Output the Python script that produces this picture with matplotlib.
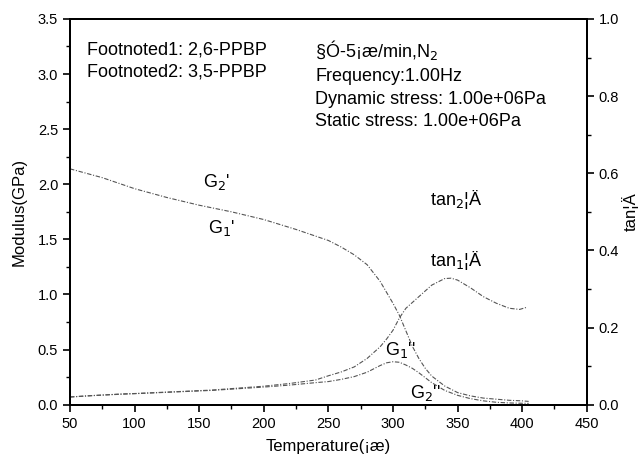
import matplotlib
matplotlib.use("Agg")
import matplotlib.pyplot as plt
from matplotlib.ticker import MultipleLocator

plt.rcParams['font.family'] = ['Liberation Sans', 'DejaVu Sans']

# Storage modulus G' (GPa)
temp_gp = [50, 75, 100, 125, 150, 175, 200, 225, 250, 260, 270, 280, 290, 297,
           300, 305, 310, 315, 320, 325, 330, 340, 350, 360, 370, 380, 390, 400, 405]
g_storage = [2.14, 2.06, 1.96, 1.88, 1.81, 1.75, 1.68, 1.59, 1.49, 1.43, 1.36,
             1.27, 1.12, 0.98, 0.92, 0.81, 0.67, 0.53, 0.42, 0.33, 0.26, 0.17,
             0.11, 0.08, 0.06, 0.05, 0.04, 0.035, 0.03]

# Loss modulus G'' (GPa)
temp_gpp = [50, 60, 70, 80, 90, 100, 120, 140, 160, 180, 200, 220, 240, 250, 260,
            270, 280, 290, 295, 300, 305, 310, 315, 320, 330, 340, 350, 360, 370,
            380, 390, 400, 405]
g_loss = [0.07, 0.078, 0.085, 0.09, 0.095, 0.10, 0.11, 0.12, 0.13, 0.145, 0.16,
          0.178, 0.20, 0.21, 0.23, 0.255, 0.295, 0.355, 0.38, 0.39, 0.385, 0.36,
          0.33, 0.29, 0.20, 0.13, 0.085, 0.055, 0.035, 0.022, 0.016, 0.013, 0.012]

# Loss factor tan delta
temp_tan = [50, 60, 70, 80, 90, 100, 120, 140, 160, 180, 200, 220, 240, 250, 260,
            270, 280, 290, 295, 300, 305, 310, 320, 330, 340, 345, 350, 360, 370,
            380, 390, 398, 404]
tan_delta = [0.020, 0.022, 0.024, 0.026, 0.028, 0.029, 0.032, 0.035, 0.038,
             0.043, 0.048, 0.055, 0.064, 0.075, 0.085, 0.098, 0.12, 0.15, 0.17,
             0.193, 0.225, 0.25, 0.28, 0.31, 0.327, 0.328, 0.323, 0.303, 0.28,
             0.263, 0.25, 0.247, 0.253]

fig = plt.figure(figsize=(6.42, 4.62), dpi=100)
ax = fig.add_axes([0.109, 0.124, 0.805, 0.835])
ax2 = ax.twinx()

line_kw = dict(color='#555555', lw=0.8, linestyle=(0, (4, 1.5, 1, 1.5)))
ax.plot(temp_gp, g_storage, **line_kw)
ax.plot(temp_gpp, g_loss, **line_kw)
ax2.plot(temp_tan, tan_delta, **line_kw)

ax.set_xlim(50, 450)
ax.set_ylim(0, 3.5)
ax2.set_ylim(0, 1.0)

ax.xaxis.set_major_locator(MultipleLocator(50))
ax.xaxis.set_minor_locator(MultipleLocator(25))
ax.yaxis.set_major_locator(MultipleLocator(0.5))
ax.yaxis.set_minor_locator(MultipleLocator(0.25))
ax2.yaxis.set_major_locator(MultipleLocator(0.2))
ax2.yaxis.set_minor_locator(MultipleLocator(0.1))

for a in (ax, ax2):
    for s in a.spines.values():
        s.set_linewidth(1.4)
    a.tick_params(which='major', direction='out', length=5, width=1.2, labelsize=10.5)
    a.tick_params(which='minor', direction='out', length=3, width=1.0)
ax.tick_params(top=False, which='both')

ax.set_xlabel('Temperature(¡æ)', fontsize=12, labelpad=6)
ax.set_ylabel('Modulus(GPa)', fontsize=12, labelpad=8)
ax2.set_ylabel('tan¦Ä', fontsize=12, labelpad=2)

ax.yaxis.set_major_formatter(plt.FuncFormatter(lambda v, p: f'{v:.1f}'))
ax2.yaxis.set_major_formatter(plt.FuncFormatter(lambda v, p: f'{v:.1f}'))

fs = 13
ax.text(63, 3.22, 'Footnoted1: 2,6-PPBP', fontsize=fs, va='center')
ax.text(63, 3.02, 'Footnoted2: 3,5-PPBP', fontsize=fs, va='center')
ax.text(240, 3.22, '§Ó-5¡æ/min,N$_2$', fontsize=fs, va='center')
ax.text(240, 2.98, 'Frequency:1.00Hz', fontsize=fs, va='center')
ax.text(240, 2.77, 'Dynamic stress: 1.00e+06Pa', fontsize=fs, va='center')
ax.text(240, 2.57, 'Static stress: 1.00e+06Pa', fontsize=fs, va='center')

ax.text(153, 2.02, "G$_2$'", fontsize=fs, va='center')
ax.text(157, 1.60, "G$_1$'", fontsize=fs, va='center')
ax.text(329, 1.86, 'tan$_2$¦Ä', fontsize=fs, va='center')
ax.text(328.5, 1.31, 'tan$_1$¦Ä', fontsize=fs, va='center')
ax.text(294, 0.50, "G$_1$''", fontsize=fs, va='center')
ax.text(313, 0.11, "G$_2$''", fontsize=fs, va='center')

fig.savefig('out.png', dpi=100)
